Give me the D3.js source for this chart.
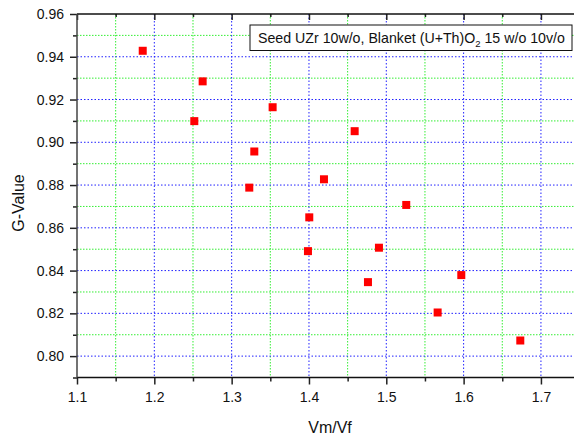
<!DOCTYPE html>
<html><head><meta charset="utf-8">
<script src="https://cdn.jsdelivr.net/npm/d3@7"></script>
<style>body{margin:0;background:#fff}svg{display:block}text{font-family:"Liberation Sans",Arial,sans-serif;fill:#111}</style>
</head><body><svg id="c" width="574" height="437"></svg>
<script>
const vmvf = [1.185,1.2625,1.2517,1.353,1.3293,1.3228,1.4591,1.4194,1.4004,1.3987,1.5258,1.4905,1.4763,1.597,1.5664,1.6733];
const gvalue = [0.9428,0.9285,0.9099,0.9164,0.8957,0.8788,0.9052,0.8827,0.8649,0.8491,0.8707,0.8507,0.8346,0.8379,0.8204,0.8073];
const xTicks = [1.1,1.2,1.3,1.4,1.5,1.6,1.7];
const xMinor = [1.15,1.25,1.35,1.45,1.55,1.65,1.75];
const yTicks = [0.80,0.82,0.84,0.86,0.88,0.90,0.92,0.94,0.96];
const yMinor = [0.79,0.81,0.83,0.85,0.87,0.89,0.91,0.93,0.95];
const legendLabel = ["Seed UZr 10w/o, Blanket (U+Th)O","2"," 15 w/o 10v/o"];

const svg = d3.select("#c");
const L=77, R=579.6, T=14, B=377.5;
const x = d3.scaleLinear().domain([1.1,1.75]).range([L,R]);
const y = d3.scaleLinear().domain([0.79,0.96]).range([B,T]);

const g = svg.append("g");
// grid
g.selectAll(".gxm").data(xMinor).join("line").attr("x1",d=>x(d)).attr("x2",d=>x(d)).attr("y1",T).attr("y2",B)
 .attr("stroke","#33ee33").attr("stroke-width",1).attr("stroke-dasharray","1.5,1.5");
g.selectAll(".gym").data(yMinor.filter(d=>d>0.79)).join("line").attr("y1",d=>y(d)).attr("y2",d=>y(d)).attr("x1",L).attr("x2",R)
 .attr("stroke","#33ee33").attr("stroke-width",1).attr("stroke-dasharray","1.5,1.5");
g.selectAll(".gx").data(xTicks.filter(d=>d>1.1)).join("line").attr("x1",d=>x(d)).attr("x2",d=>x(d)).attr("y1",T).attr("y2",B)
 .attr("stroke","#2020ff").attr("stroke-width",1).attr("stroke-dasharray","1.5,2");
g.selectAll(".gy").data(yTicks.filter(d=>d<0.96)).join("line").attr("y1",d=>y(d)).attr("y2",d=>y(d)).attr("x1",L).attr("x2",R)
 .attr("stroke","#2020ff").attr("stroke-width",1).attr("stroke-dasharray","1.5,2");

// axes
const styleAxis = sel => { sel.select(".domain").remove(); sel.selectAll("line").attr("stroke","#222").attr("stroke-width",1.5); sel.selectAll("text").style("font-size","14px").attr("fill","#111"); };
const xa = d3.axisBottom(x).tickValues(xTicks).tickFormat(d3.format(".1f")).tickSize(7).tickPadding(8);
svg.append("g").attr("transform",`translate(0,${B})`).call(xa).call(styleAxis);
svg.append("g").attr("transform",`translate(0,${B})`).call(d3.axisBottom(x).tickValues(xMinor).tickFormat("").tickSize(4)).call(styleAxis);
const ya = d3.axisLeft(y).tickValues(yTicks).tickFormat(d3.format(".2f")).tickSize(7).tickPadding(6);
svg.append("g").attr("transform",`translate(${L},0)`).call(ya).call(styleAxis);
svg.append("g").attr("transform",`translate(${L},0)`).call(d3.axisLeft(y).tickValues(yMinor).tickFormat("").tickSize(4)).call(styleAxis);
// top axis ticks inward
svg.append("g").attr("transform",`translate(0,${T})`).call(d3.axisBottom(x).tickValues(xTicks).tickFormat("").tickSize(6)).call(styleAxis);
svg.append("g").attr("transform",`translate(0,${T})`).call(d3.axisBottom(x).tickValues(xMinor).tickFormat("").tickSize(3)).call(styleAxis);
// axis lines
svg.append("line").attr("x1",L).attr("x2",R).attr("y1",B).attr("y2",B).attr("stroke","#111").attr("stroke-width",1.5);
svg.append("line").attr("x1",L).attr("x2",R).attr("y1",T).attr("y2",T).attr("stroke","#111").attr("stroke-width",1.5);
svg.append("line").attr("x1",L).attr("x2",L).attr("y1",T).attr("y2",B).attr("stroke","#444").attr("stroke-width",1.5);

// points
svg.selectAll(".pt").data(vmvf.map((v,i)=>[v,gvalue[i]])).join("rect")
 .attr("x",d=>x(d[0])-4).attr("y",d=>y(d[1])-4).attr("width",8).attr("height",8).attr("fill","#ff0000");

// titles
svg.append("text").attr("x",330).attr("y",433).attr("text-anchor","middle").style("font-size","16px").text("Vm/Vf");
svg.append("text").attr("transform","translate(24,203) rotate(-90)").attr("text-anchor","middle").style("font-size","16px").text("G-Value");

// legend
svg.append("rect").attr("x",250).attr("y",25).attr("width",322).attr("height",25.5).attr("fill","#fff").attr("stroke","#111").attr("stroke-width",1);
const lt = svg.append("text").attr("x",258).attr("y",43).style("font-size","14.2px");
lt.append("tspan").text(legendLabel[0]);
lt.append("tspan").attr("dy",4).style("font-size","9.5px").text(legendLabel[1]);
lt.append("tspan").attr("dy",-4).text(legendLabel[2]);
</script></body></html>
